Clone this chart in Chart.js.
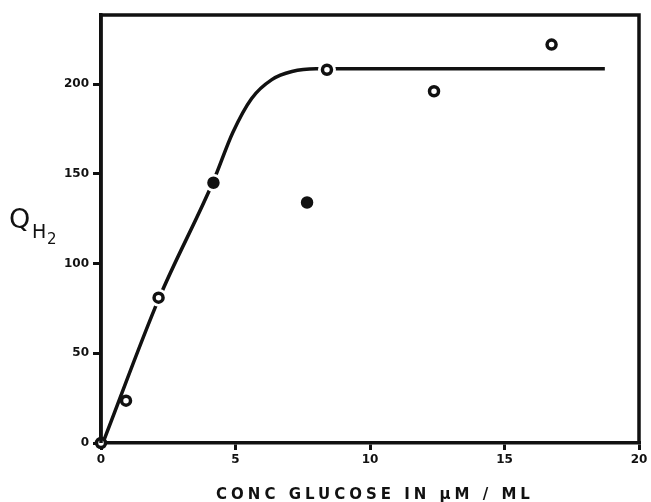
<!DOCTYPE html>
<html>
<head>
<meta charset="utf-8">
<script src="https://cdn.jsdelivr.net/npm/chart.js@4.4.0/dist/chart.umd.min.js"></script>
<style>
    html, body { margin: 0; padding: 0; background: #fff; }
    #wrap { width: 651px; height: 502px; }
</style>
</head>
<body>
<div id="wrap"><canvas id="qChart" width="651" height="502"></canvas></div>
<script>
// Measured points (glucose uM/ml vs QH2)
const glucose = [0, 0.93, 2.14, 4.18, 7.66, 8.4, 12.38, 16.75];
const qh2 = [0, 23.6, 81, 145, 134, 208, 196, 222];
const filled = [false, false, false, true, true, false, false, false];
const onCurve = [false, false, true, true, false, true, false, false];

// Hand-drawn fitted curve
const curveX = [0.12, 2.14, 4.18, 4.9, 5.6, 6.35, 7.1, 8.0, 8.4, 18.73];
const curveY = [2, 80, 146, 173, 192, 202.5, 207, 208.5, 208.5, 208.5];

const xTicks = [0, 5, 10, 15, 20];
const yTicks = [0, 50, 100, 150, 200];

const ink = '#111';

// frame + axis titles
const decorations = {
    id: 'decorations',
    afterDraw(chart) {
        const ctx = chart.ctx;
        const a = chart.chartArea;
        ctx.save();
        ctx.strokeStyle = ink;
        ctx.lineWidth = 3.5;
        ctx.beginPath();
        ctx.moveTo(a.left, a.bottom);
        ctx.lineTo(a.left, a.top);
        ctx.lineTo(a.right, a.top);
        ctx.lineTo(a.right, a.bottom);
        ctx.stroke();

        ctx.fillStyle = ink;
        ctx.textBaseline = 'alphabetic';
        ctx.textAlign = 'left';
        ctx.font = '27px "DejaVu Sans"';
        ctx.fillText('Q', 9, 228);
        ctx.font = '19px "DejaVu Sans"';
        ctx.fillText('H', 32, 238);
        ctx.font = '15px "DejaVu Sans"';
        ctx.fillText('2', 47, 244);

        ctx.font = 'bold 15px "DejaVu Sans"';
        ctx.textAlign = 'center';
        ctx.letterSpacing = '4px';
        ctx.fillText('CONC GLUCOSE IN \u00B5M / ML', 375, 499);
        ctx.restore();
    }
};

const ctx = document.getElementById('qChart').getContext('2d');
new Chart(ctx, {
    type: 'scatter',
    data: {
        datasets: [
            {
                // markers
                data: glucose.map((x, i) => ({ x: x, y: qh2[i] })),
                pointRadius: 4.5,
                pointBorderWidth: 3.5,
                pointBorderColor: ink,
                pointBackgroundColor: filled.map(f => f ? ink : '#fff'),
                clip: false,
                order: 1
            },
            {
                // white halo where the curve is broken around a point
                data: glucose.map((x, i) => ({ x: x, y: qh2[i] })).filter((p, i) => onCurve[i]),
                pointRadius: 9,
                pointBorderWidth: 0,
                pointBackgroundColor: '#fff',
                clip: false,
                order: 2
            },
            {
                type: 'line',
                data: curveX.map((x, i) => ({ x: x, y: curveY[i] })),
                borderColor: ink,
                borderWidth: 3.5,
                pointRadius: 0,
                cubicInterpolationMode: 'monotone',
                fill: false,
                order: 3
            }
        ]
    },
    options: {
        responsive: false,
        animation: false,
        layout: { padding: { top: 15, right: 12, left: 0, bottom: 0 } },
        plugins: {
            legend: { display: false },
            tooltip: { enabled: false }
        },
        scales: {
            x: {
                type: 'linear',
                min: 0,
                max: 20,
                afterBuildTicks: s => { s.ticks = xTicks.map(v => ({ value: v })); },
                afterFit: s => { s.height = 59; },
                border: { display: true, color: ink, width: 3.5 },
                grid: { drawOnChartArea: false, drawTicks: true, tickLength: 7, color: ink, lineWidth: 3 },
                ticks: {
                    color: ink,
                    padding: 3,
                    maxRotation: 0,
                    font: { family: 'DejaVu Sans', weight: 'bold', size: 12 }
                }
            },
            y: {
                type: 'linear',
                min: 0,
                max: 238.5,
                afterBuildTicks: s => { s.ticks = yTicks.map(v => ({ value: v })); },
                afterFit: s => { s.width = 101; },
                border: { display: true, color: ink, width: 3.5 },
                grid: { drawOnChartArea: false, drawTicks: true, tickLength: 8, color: ink, lineWidth: 3 },
                ticks: {
                    color: ink,
                    padding: 4,
                    font: { family: 'DejaVu Sans', weight: 'bold', size: 12 }
                }
            }
        }
    },
    plugins: [decorations]
});
</script>
</body>
</html>
